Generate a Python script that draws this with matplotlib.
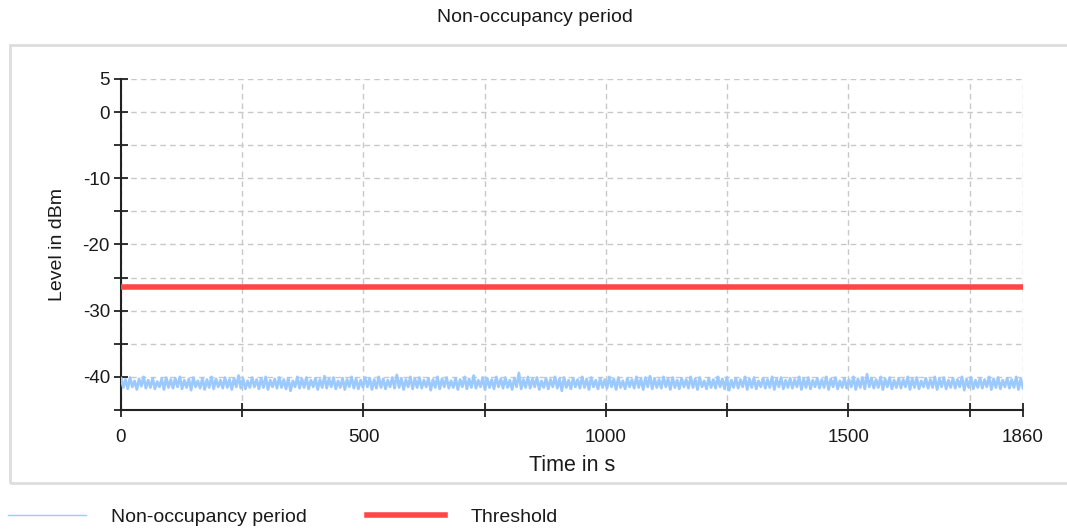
import numpy as np
import matplotlib
matplotlib.use("Agg")
import matplotlib.pyplot as plt
from matplotlib.patches import Rectangle
from matplotlib.ticker import FixedLocator, FixedFormatter

plt.rcParams['font.family'] = ['Liberation Sans', 'DejaVu Sans']

title = "Non-occupancy period"
x_label = "Time in s"
y_label = "Level in dBm"
series_name = "Non-occupancy period"
threshold_name = "Threshold"

t_end = 1860
threshold = -26.4

x_ticks = [0, 250, 500, 750, 1000, 1250, 1500, 1750, 1860]
x_tick_labels = ["0", "", "500", "", "1000", "", "1500", "", "1860"]
y_ticks = [5, 0, -5, -10, -15, -20, -25, -30, -35, -40, -45]
y_tick_labels = ["5", "0", "", "-10", "", "-20", "", "-30", "", "-40", ""]

level = [
    -40.2, -41.6, -40.4, -41.8, -40.1, -41.5, -40.6, -41.9, -40.3, -41.4, -40.0, -41.7, -40.5, -41.6, -40.2, -41.8, -40.7, -41.5, -40.3, -41.9,
    -40.1, -41.6, -40.4, -41.7, -40.2, -41.5, -40.0, -41.8, -40.5, -41.6, -40.3, -42.0, -40.1, -41.5, -40.6, -41.7, -40.2, -41.9, -40.4, -41.6,
    -40.0, -41.8, -40.3, -41.5, -40.5, -41.7, -40.1, -41.6, -40.4, -41.9, -40.2, -41.5, -39.8, -41.7, -40.3, -41.8, -40.6, -41.6, -40.1, -41.5,
    -40.4, -41.8, -40.2, -41.6, -40.0, -41.9, -40.5, -41.5, -40.3, -41.7, -40.1, -41.6, -40.4, -41.8, -40.2, -42.1, -40.6, -41.5, -40.0, -41.7,
    -40.3, -41.6, -40.1, -41.8, -40.5, -41.5, -40.2, -41.9, -40.4, -41.6, -39.9, -41.7, -40.3, -41.5, -40.1, -41.8, -40.6, -41.6, -40.2, -41.9,
    -40.4, -41.5, -40.0, -41.7, -40.3, -41.8, -40.5, -41.6, -40.1, -41.5, -40.2, -41.9, -40.4, -41.7, -40.0, -41.6, -40.3, -41.8, -40.5, -41.5,
    -40.1, -41.7, -39.7, -41.6, -40.2, -41.9, -40.4, -41.5, -40.0, -41.8, -40.3, -41.6, -40.1, -41.7, -40.5, -41.5, -40.2, -42.0, -40.4, -41.6,
    -40.0, -41.8, -40.3, -41.5, -40.1, -41.7, -40.6, -41.6, -40.2, -41.9, -40.4, -41.5, -40.0, -41.8, -40.3, -41.6, -39.8, -41.7, -40.5, -41.5,
    -40.1, -41.9, -40.2, -41.6, -40.4, -41.8, -40.0, -41.5, -40.3, -41.7, -40.1, -41.6, -40.5, -41.9, -40.2, -41.5, -39.4, -41.8, -40.4, -41.6,
    -40.0, -41.7, -40.3, -41.5, -40.1, -41.9, -40.6, -41.6, -40.2, -41.8, -40.4, -41.5, -40.0, -41.7, -40.3, -42.1, -40.1, -41.6, -40.5, -41.8,
    -40.2, -41.5, -40.4, -41.7, -40.0, -41.6, -40.3, -41.9, -40.1, -41.5, -40.5, -41.8, -40.2, -41.6, -40.4, -41.7, -40.0, -41.5, -40.3, -41.9,
    -40.1, -41.6, -40.6, -41.8, -40.2, -41.5, -40.4, -41.7, -40.0, -41.6, -40.3, -41.9, -40.1, -41.5, -39.9, -41.8, -40.2, -41.6, -40.4, -41.7,
    -40.0, -41.5, -40.3, -41.9, -40.1, -41.6, -40.5, -41.8, -40.2, -41.5, -40.4, -41.7, -40.0, -41.6, -40.3, -41.9, -40.1, -41.5, -40.6, -41.8,
    -40.2, -41.6, -40.4, -41.7, -40.0, -41.5, -40.3, -41.8, -40.1, -42.0, -40.5, -41.6, -40.2, -41.7, -40.4, -41.5, -40.0, -41.9, -40.3, -41.6,
    -40.1, -41.8, -40.6, -41.5, -40.2, -41.7, -40.4, -41.6, -40.0, -41.9, -40.3, -41.5, -40.1, -41.8, -40.5, -41.6, -40.2, -41.7, -40.4, -41.5,
    -40.0, -41.9, -40.3, -41.6, -40.1, -41.8, -40.5, -41.5, -40.2, -41.7, -40.4, -41.6, -40.0, -41.9, -40.3, -41.5, -40.1, -41.8, -40.6, -41.6,
    -40.2, -41.7, -40.4, -41.5, -40.0, -41.9, -40.3, -41.6, -40.1, -41.8, -39.6, -41.5, -40.2, -41.7, -40.4, -41.6, -40.0, -41.9, -40.3, -41.5,
    -40.1, -41.8, -40.5, -41.6, -40.2, -41.7, -40.4, -41.5, -40.0, -41.9, -40.3, -41.6, -40.1, -41.8, -40.6, -41.5, -40.2, -41.7, -40.4, -41.6,
    -40.0, -41.9, -40.3, -41.5, -40.1, -41.8, -40.5, -41.6, -40.2, -41.7, -40.4, -41.5, -40.0, -42.0, -40.3, -41.6, -40.1, -41.8, -40.5, -41.6,
    -40.2, -41.7, -40.4, -41.5, -40.0, -41.9, -40.3, -41.6, -40.1, -41.8, -40.5, -41.5, -40.2, -41.7, -40.4, -41.6, -40.0, -41.9, -40.3, -41.7,
]

t = np.linspace(0, t_end, len(level))

W, H = 1067, 531
fig = plt.figure(figsize=(W / 100, H / 100), dpi=100)
ax = fig.add_axes([121 / W, 1 - 410 / H, (1023 - 121) / W, (410 - 79) / H])

ax.plot(t, level, color="#9ccaff", lw=2.0, label=series_name, zorder=3)
ax.axhline(threshold, color="#ff4646", lw=4, label=threshold_name, zorder=4)

ax.set_xlim(0, t_end)
ax.set_ylim(-45, 5)
ax.xaxis.set_major_locator(FixedLocator(x_ticks))
ax.xaxis.set_major_formatter(FixedFormatter(x_tick_labels))
ax.yaxis.set_major_locator(FixedLocator(y_ticks))
ax.yaxis.set_major_formatter(FixedFormatter(y_tick_labels))

for s in ["top", "right"]:
    ax.spines[s].set_visible(False)
for s in ["left", "bottom"]:
    ax.spines[s].set_color("#222222")
    ax.spines[s].set_linewidth(1.5)

ax.tick_params(axis="both", direction="inout", length=10, width=1.3, color="#222222",
               labelsize=13.5, labelcolor="#1a1a1a")
ax.tick_params(axis="x", pad=9)
ax.tick_params(axis="y", pad=3)
ax.grid(True, color="#c8c8c8", lw=1, linestyle=(0, (4, 3)), zorder=0)
ax.set_axisbelow(True)

ax.set_xlabel(x_label, fontsize=15.5, color="#1a1a1a", labelpad=6)
ax.set_ylabel(y_label, fontsize=14, color="#1a1a1a", labelpad=12)

fig.text(535 / W, 1 - 17 / H, title, ha="center", va="center", fontsize=14, color="#1a1a1a")

fig.add_artist(Rectangle((10 / W, 1 - 483 / H), 1.2, (483 - 45) / H, transform=fig.transFigure,
                         fill=False, edgecolor="#dddddd", lw=2, clip_on=False))

handles, labels = ax.get_legend_handles_labels()
for h in handles[:1]:
    pass
leg = fig.legend(handles, labels, loc="center left", bbox_to_anchor=(8 / W, 1 - 517 / H),
                 ncol=2, frameon=False, fontsize=14, handlelength=4.0, handletextpad=1.3,
                 columnspacing=3.1, borderpad=0, borderaxespad=0, labelcolor="#1a1a1a")
leg.get_lines()[0].set_linewidth(1.0)

fig.savefig("out.png", dpi=100)
